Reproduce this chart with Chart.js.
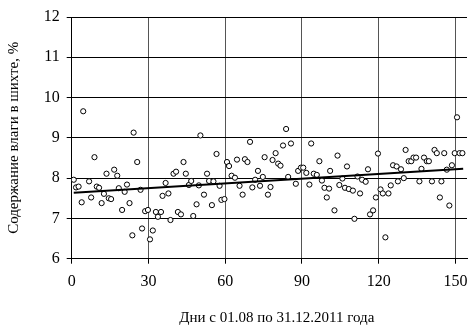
<!DOCTYPE html>
<html>
<head>
<meta charset="utf-8">
<script src="https://cdn.jsdelivr.net/npm/chart.js@4/dist/chart.umd.min.js"></script>
<style>
  html, body { margin: 0; padding: 0; background: #fff; }
</style>
</head>
<body>
<canvas id="myChart" width="472" height="329"></canvas>
<script>
// Days since 01.08.2011 and moisture of the charge, %
var days = [
  0.8, 1.7, 2.7, 3.9, 4.5, 6.8, 7.6, 8.9, 9.8, 10.7, 11.7, 12.6, 13.6, 14.5, 15.4, 16.6, 17.8, 18.4, 19.7, 20.7,
  21.6, 22.6, 23.7, 24.2, 25.6, 26.9, 27.5, 28.7, 29.8, 30.6, 31.7, 32.9, 33.7, 34.9, 35.5, 36.7, 37.8, 38.6, 39.8, 40.8,
  41.5, 42.7, 43.7, 44.6, 45.8, 46.7, 47.5, 48.8, 49.7, 50.3, 51.7, 52.9, 53.7, 54.8, 55.4, 56.6, 57.8, 58.5, 59.7, 60.7,
  61.5, 62.5, 63.8, 64.6, 65.6, 66.8, 67.7, 68.7, 69.7, 70.6, 71.7, 72.8, 73.6, 74.7, 75.4, 76.7, 77.7, 78.5, 79.7, 80.7,
  81.6, 82.6, 83.8, 84.6, 85.7, 87.6, 88.5, 89.6, 90.5, 91.7, 92.9, 93.6, 94.6, 95.8, 96.8, 97.8, 98.8, 99.7, 100.6, 101.0,
  102.7, 103.9, 104.6, 105.8, 106.8, 107.6, 108.3, 109.9, 110.5, 111.7, 112.7, 113.5, 114.9, 115.8, 116.6, 117.8, 118.9, 119.7, 120.7, 121.6,
  122.6, 123.8, 124.7, 125.6, 127.0, 127.5, 128.7, 129.8, 130.5, 131.7, 132.7, 133.6, 134.6, 135.9, 136.7, 137.7, 138.8, 139.6, 140.8, 141.8,
  142.7, 143.9, 144.5, 145.6, 146.6, 147.6, 148.6, 149.7, 150.6, 151.6, 152.7
];
var moisture = [
  7.96, 7.77, 7.79, 7.40, 9.66, 7.92, 7.52, 8.52, 7.79, 7.76, 7.38, 7.61, 8.11, 7.50, 7.48, 8.21, 8.06, 7.75, 7.21, 7.66,
  7.84, 7.38, 6.58, 9.13, 8.40, 7.71, 6.75, 7.18, 7.21, 6.48, 6.70, 7.16, 7.04, 7.16, 7.56, 7.88, 7.62, 6.96, 8.11, 8.16,
  7.16, 7.10, 8.40, 8.11, 7.83, 7.93, 7.06, 7.35, 7.82, 9.06, 7.59, 8.11, 7.93, 7.33, 7.92, 8.60, 7.81, 7.46, 7.48, 8.40,
  8.30, 8.06, 8.01, 8.46, 7.81, 7.59, 8.47, 8.40, 8.90, 7.77, 7.96, 8.18, 7.81, 8.03, 8.52, 7.59, 7.78, 8.45, 8.62, 8.36,
  8.31, 8.81, 9.22, 8.03, 8.86, 7.86, 8.18, 8.26, 8.26, 8.13, 7.84, 8.86, 8.11, 8.08, 8.42, 7.94, 7.76, 7.52, 7.74, 8.18,
  7.20, 8.56, 7.83, 7.99, 7.76, 8.29, 7.73, 7.69, 6.99, 8.04, 7.62, 7.96, 7.91, 8.22, 7.10, 7.20, 7.52, 8.61, 7.72, 7.62,
  6.53, 7.62, 7.82, 8.32, 8.29, 7.92, 8.22, 8.00, 8.70, 8.42, 8.42, 8.51, 8.51, 7.92, 8.23, 8.51, 8.42, 8.42, 7.92, 8.70,
  8.62, 7.52, 7.92, 8.62, 8.21, 7.32, 8.32, 8.62, 9.51, 8.62, 8.62
];

// linear trend, end points
var trendDays = [0.8, 153];
var trendValues = [7.64, 8.23];

var xTicks = [0, 30, 60, 90, 120, 150];
var yTicks = [6, 7, 8, 9, 10, 11, 12];

var serif = 'Liberation Serif, Times New Roman, serif';

var points = days.map(function(d, i) { return { x: d, y: moisture[i] }; });
var trend = trendDays.map(function(d, i) { return { x: d, y: trendValues[i] }; });

var chart = new Chart(document.getElementById('myChart'), {
  type: 'scatter',
  data: {
    datasets: [
      {
        data: trend,
        showLine: true,
        borderColor: '#000000',
        borderWidth: 2,
        pointRadius: 0,
        fill: false
      },
      {
        data: points,
        pointRadius: 2.6,
        pointBorderWidth: 1,
        pointBorderColor: '#000000',
        pointBackgroundColor: '#ffffff'
      }
    ]
  },
  options: {
    responsive: false,
    animation: false,
    events: [],  // no hover
    layout: {
      padding: { top: 17, right: 0, bottom: 0, left: 0 }
    },
    plugins: {
      legend: { display: false },
      tooltip: { enabled: false }
    },
    scales: {
      x: {
        type: 'linear',
        min: 0,
        max: 154.5,
        afterBuildTicks: function(scale) {
          scale.ticks = xTicks.map(function(v) { return { value: v }; });
        },
        afterFit: function(scale) {
          scale.height = 70.3;
          scale.paddingLeft = 0;
          scale.paddingRight = 0;
        },
        grid: {
          color: '#555555',
          lineWidth: 1,
          tickLength: 5,
          tickColor: '#000000'
        },
        border: { display: true, color: '#000000', width: 1 },
        ticks: {
          color: '#000000',
          padding: 8,
          maxRotation: 0,
          font: { family: serif, size: 16 }
        },
        title: {
          display: true,
          text: '\u2003Дни с 01.08 по 31.12.2011 года',
          color: '#000000',
          font: { family: serif, size: 15 },
          padding: { top: 0, bottom: 2 }
        }
      },
      y: {
        min: 6,
        max: 12,
        afterBuildTicks: function(scale) {
          scale.ticks = yTicks.map(function(v) { return { value: v }; });
        },
        afterFit: function(scale) {
          scale.width = 71.7;
        },
        grid: {
          color: '#000000',
          lineWidth: 1,
          tickLength: 5
        },
        border: { display: true, color: '#000000', width: 1 },
        ticks: {
          color: '#000000',
          padding: 7,
          font: { family: serif, size: 16 }
        },
        title: {
          display: true,
          text: 'Содержание влаги в шихте, %',
          color: '#000000',
          font: { family: serif, size: 15 },
          padding: { top: 5, bottom: 0 }
        }
      }
    }
  }
});
</script>
</body>
</html>
